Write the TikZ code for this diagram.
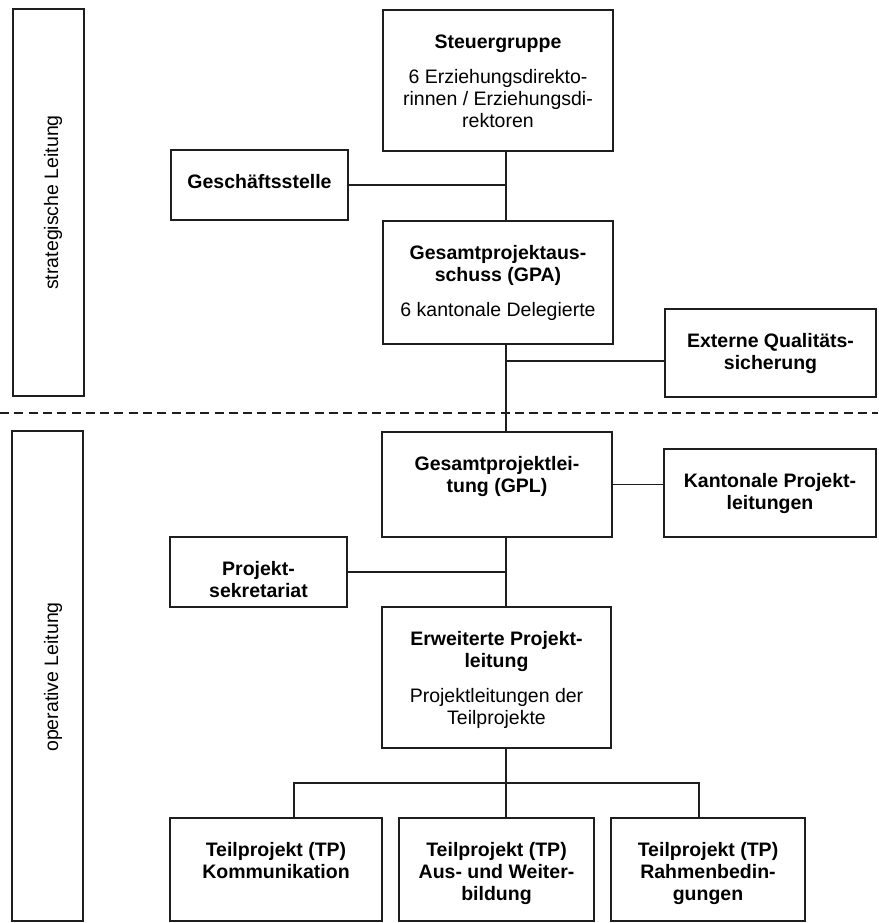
\documentclass[tikz,border=0pt]{standalone}
\usepackage{fontspec}
\setmainfont{Liberation Sans}
\definecolor{linec}{HTML}{1E1E1E}
\begin{document}
\begin{tikzpicture}[x=1pt,y=-1pt,
  box/.style={draw=linec, line width=1.6pt, inner sep=0pt, outer sep=0pt},
  txt/.style={inner sep=0pt, outer sep=0pt, anchor=base, font=\fontsize{19.5}{22}\selectfont, text=black},
  side/.style={inner sep=0pt, outer sep=0pt, rotate=90, font=\fontsize{19.5}{22}\selectfont, text=black},
  conn/.style={draw=linec, line width=1.6pt},
  sep/.style={draw=linec, line width=1.6pt, dash pattern=on 9pt off 5.3pt}]
\useasboundingbox[fill=white] (0,0) rectangle (878,923);

% side boxes
\node[box, minimum width=71pt, minimum height=387pt] (strat) at (48.5,202.5) {};
\node[side] (strat-t) at (53,202.5) {strategische Leitung};
\node[box, minimum width=71pt, minimum height=490pt] (oper) at (47.5,676) {};
\node[side] (oper-t) at (53,677) {operative Leitung};

% separator
\coordinate (dl) at (0,413);
\coordinate (dr) at (878,413);
\draw[sep] (dl) -- (dr);

% boxes
\node[box, minimum width=230pt, minimum height=141pt] (steuer) at (498,80.5) {};
\node[box, minimum width=177pt, minimum height=70pt] (gesch) at (259.5,185) {};
\node[box, minimum width=230pt, minimum height=123pt] (gpa) at (498,282.5) {};
\node[box, minimum width=211pt, minimum height=88pt] (ext) at (770.5,353) {};
\node[box, minimum width=230pt, minimum height=105pt] (gpl) at (497,484.5) {};
\node[box, minimum width=212pt, minimum height=88pt] (kant) at (770,493) {};
\node[box, minimum width=177pt, minimum height=70pt] (sek) at (258.5,572) {};
\node[box, minimum width=229pt, minimum height=141pt] (erw) at (496.5,677.5) {};
\node[box, minimum width=212pt, minimum height=103pt] (tp1) at (276,869.5) {};
\node[box, minimum width=195pt, minimum height=103pt] (tp2) at (496.5,869.5) {};
\node[box, minimum width=194pt, minimum height=103pt] (tp3) at (708,869.5) {};

% texts
\node[txt] (steuer-t) at (498,48.5) {\begin{tabular}[t]{@{}c@{}}\textbf{Steuergruppe}\\[13pt]6 Erziehungsdirekto-\\rinnen / Erziehungsdi-\\rektoren\end{tabular}};
\node[txt] (gesch-t) at (259.5,188.5) {\bfseries\begin{tabular}[t]{@{}c@{}}Geschäftsstelle\end{tabular}};
\node[txt] (gpa-t) at (498,259.5) {\begin{tabular}[t]{@{}c@{}}\textbf{Gesamtprojektaus-}\\\textbf{schuss (GPA)}\\[13pt]6 kantonale Delegierte\end{tabular}};
\node[txt] (ext-t) at (770.5,347.5) {\bfseries\begin{tabular}[t]{@{}c@{}}Externe Qualitäts-\\sicherung\end{tabular}};
\node[txt] (gpl-t) at (497,470.5) {\bfseries\begin{tabular}[t]{@{}c@{}}Gesamtprojektlei-\\tung (GPL)\end{tabular}};
\node[txt] (kant-t) at (770,487.5) {\bfseries\begin{tabular}[t]{@{}c@{}}Kantonale Projekt-\\leitungen\end{tabular}};
\node[txt] (sek-t) at (258.5,575.5) {\bfseries\begin{tabular}[t]{@{}c@{}}Projekt-\\sekretariat\end{tabular}};
\node[txt] (erw-t) at (496.5,645.5) {\begin{tabular}[t]{@{}c@{}}\textbf{Erweiterte Projekt-}\\\textbf{leitung}\\[13pt]Projektleitungen der\\Teilprojekte\end{tabular}};
\node[txt] (tp1-t) at (276,856.5) {\bfseries\begin{tabular}[t]{@{}c@{}}Teilprojekt (TP)\\Kommunikation\end{tabular}};
\node[txt] (tp2-t) at (496.5,856.5) {\bfseries\begin{tabular}[t]{@{}c@{}}Teilprojekt (TP)\\Aus- und Weiter-\\bildung\end{tabular}};
\node[txt] (tp3-t) at (708,856.5) {\bfseries\begin{tabular}[t]{@{}c@{}}Teilprojekt (TP)\\Rahmenbedin-\\gungen\end{tabular}};

% connectors
\coordinate (spine) at (506,0);
\coordinate (br) at (506,783);
\coordinate (b1) at (294,783);
\coordinate (b3) at (699,783);
\draw[conn] (steuer.south -| spine) -- (gpa.north -| spine);
\draw[conn] (gesch.east) -- (gesch.east -| spine);
\draw[conn] (gpa.south -| spine) -- (gpl.north -| spine);
\draw[conn] ([yshift=-8pt]ext.west) -- ([yshift=-8pt]ext.west -| spine);
\draw[conn] (gpl.east) -- (gpl.east -| kant.west);
\draw[conn] (gpl.south -| spine) -- (erw.north -| spine);
\draw[conn] (sek.east) -- (sek.east -| spine);
\draw[conn] (erw.south -| spine) -- (br);
\draw[conn] (b1 |- tp1.north) -- (b1) -- (b3) -- (b3 |- tp3.north);
\draw[conn] (br) -- (br |- tp2.north);
\end{tikzpicture}
\end{document}
